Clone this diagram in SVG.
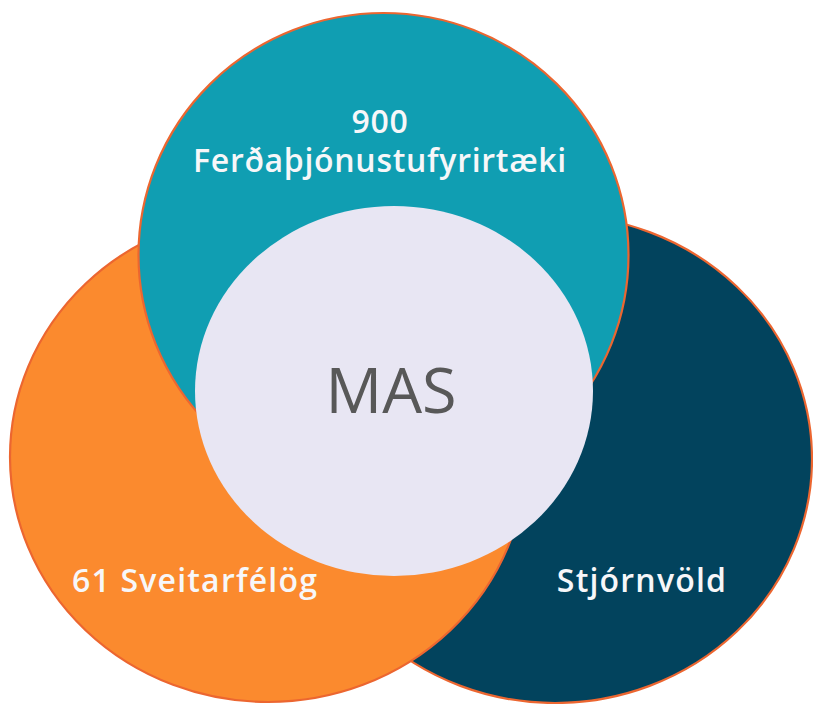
<svg xmlns="http://www.w3.org/2000/svg" width="813" height="704" viewBox="0 0 813 704">
<style>
.ring{stroke:#EC6630;stroke-width:2.2}
.lbl{font-family:"Open Sans","Noto Sans","DejaVu Sans",sans-serif;font-weight:600;font-size:32px;letter-spacing:0.7px;fill:#F7F7F9;text-anchor:middle}
.wide{letter-spacing:1.2px}
.core{font-family:"Open Sans","Noto Sans","DejaVu Sans",sans-serif;font-size:63px;fill:#585858;text-anchor:middle}
</style>
<rect width="813" height="704" fill="#FFFFFF"/>
<g id="stjornvold">
<ellipse class="ring" cx="555" cy="459" rx="257" ry="244" fill="#02435D"/>
</g>
<g id="sveitarfelog">
<ellipse class="ring" cx="268" cy="457" rx="258" ry="245" fill="#FB8A2E"/>
</g>
<g id="ferdathjonusta">
<ellipse class="ring" cx="383.5" cy="255" rx="245" ry="242" fill="#109EB2"/>
</g>
<g id="mas">
<ellipse cx="394" cy="391" rx="199" ry="185" fill="#E8E6F3"/>
<text class="core" x="391" y="413">MAS</text>
</g>
<g id="labels">
<text class="lbl" x="380" y="133">900</text>
<text class="lbl" x="380" y="172">Ferðaþjónustufyrirtæki</text>
<text class="lbl wide" x="195" y="592">61 Sveitarfélög</text>
<text class="lbl wide" x="642" y="592">Stjórnvöld</text>
</g>
<g id="connectors"></g>
</svg>
